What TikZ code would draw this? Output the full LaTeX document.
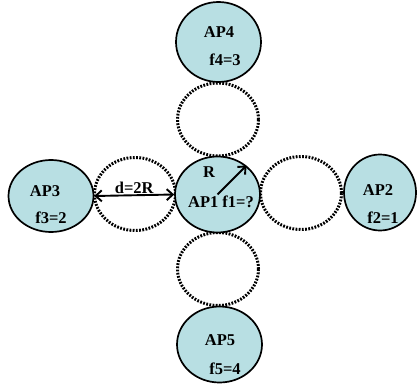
\documentclass[tikz,border=0pt]{standalone}
\usepackage{fontspec}
\setmainfont{Liberation Serif}
\usetikzlibrary{arrows.meta,shapes.geometric}
\definecolor{CellBlue}{HTML}{B8DFE3}

\begin{document}
\begin{tikzpicture}[x=1pt,y=-1pt,
    every node/.style={font=\fontsize{16.5}{19}\selectfont\bfseries},
    ap/.style={ellipse,draw=black,fill=CellBlue,line width=1.7pt,minimum width=85pt,minimum height=76pt,inner sep=0pt},
    gap/.style={ellipse,draw=black,line width=3pt,dash pattern=on 1.8pt off 1.4pt,minimum width=81pt,minimum height=73pt,inner sep=0pt},
    lbl/.style={inner sep=0pt},
    barb/.style={-{Straight Barb[length=6pt,width=11pt]},line width=1.9pt},
    dblbarb/.style={{Straight Barb[length=6pt,width=11pt]}-{Straight Barb[length=6pt,width=11pt]},line width=1.9pt}]
    \useasboundingbox (0,0) rectangle (417,385);
    % empty cells between the access points
    \node[gap] (gapN) at (218,119.5) {};
    \node[gap] (gapS) at (218,269) {};
    \node[gap] (gapW) at (135,194) {};
    \node[gap] (gapE) at (301,193) {};
    % access points
    \node[ap] (ap1) at (217.5,194.5) {};
    \node[ap,minimum width=72pt] (ap2) at (380,192.5) {};
    \node[ap,minimum height=72pt] (ap3) at (51,196) {};
    \node[ap,minimum height=80pt] (ap4) at (218.5,42) {};
    \node[ap] (ap5) at (219.5,344.5) {};
    \node[lbl] (n1) at (221,202) {AP1 f1=?};
    \node[lbl] (rlbl) at (209,172) {R};
    \node[lbl] (n2) at (378,190) {AP2};
    \node[lbl] (f2) at (383,218) {f2=1};
    \node[lbl] (n3) at (45,191) {AP3};
    \node[lbl] (f3) at (51,218) {f3=2};
    \node[lbl] (n4) at (219,32) {AP4};
    \node[lbl] (f4) at (225,60) {f4=3};
    \node[lbl] (n5) at (220,340) {AP5};
    \node[lbl] (f5) at (225,369) {f5=4};
    \draw[barb] (ap1.center) -- (ap1.45);
    \draw[dblbarb] (ap3.east) -- (ap1.west)
      node[midway,above=1pt,lbl] (dlbl) {d=2R};
\end{tikzpicture}
\end{document}
